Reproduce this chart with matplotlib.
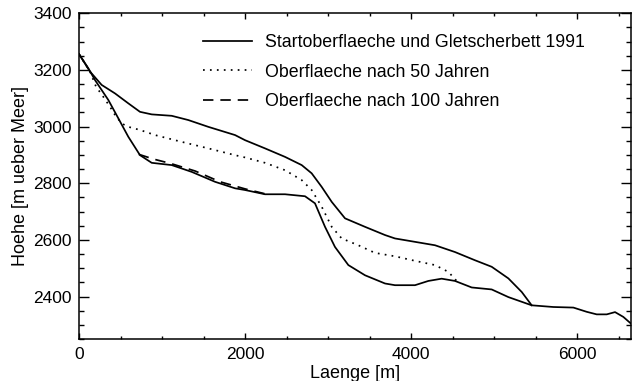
import matplotlib
matplotlib.use("Agg")
import matplotlib.pyplot as plt
from matplotlib.ticker import MultipleLocator

plt.rcParams['font.family'] = ['Liberation Sans', 'DejaVu Sans']

# Surface 1991 (upper solid)
surf_x = [0, 133, 273, 434, 594, 735, 876, 1117, 1317, 1558, 1880, 2000, 2241, 2482, 2683,
          2803, 2924, 3045, 3205, 3446, 3687, 3807, 4048, 4289, 4530, 4771, 4972, 5173, 5334, 5454]
surf_y = [3256, 3194, 3147, 3117, 3082, 3052, 3043, 3038, 3023, 2999, 2970, 2952, 2923, 2893, 2864,
          2835, 2787, 2734, 2676, 2646, 2617, 2605, 2593, 2581, 2557, 2528, 2505, 2464, 2416, 2369]

# Glacier bed 1991 (lower solid)
bed_x = [0, 112, 193, 353, 474, 594, 735, 876, 1117, 1358, 1639, 1880, 2000, 2241, 2482, 2723,
         2843, 2964, 3084, 3245, 3446, 3687, 3807, 4048, 4209, 4369, 4530, 4731, 4972, 5173,
         5454, 5715, 5956, 6117, 6237, 6358, 6458, 6558, 6675]
bed_y = [3256, 3206, 3164, 3094, 3029, 2964, 2899, 2872, 2864, 2840, 2805, 2782, 2776, 2761, 2761, 2754,
         2729, 2646, 2575, 2511, 2475, 2446, 2440, 2440, 2455, 2463, 2455, 2432, 2425, 2398,
         2369, 2363, 2361, 2346, 2337, 2337, 2345, 2328, 2298]

# Surface after 50 years (dotted)
s50_x = [0, 133, 205, 293, 373, 434, 514, 594, 735, 916, 1237, 1558, 1880, 2000, 2241, 2482,
         2683, 2803, 2924, 3045, 3165, 3365, 3566, 3807, 4048, 4289, 4450, 4550]
s50_y = [3256, 3194, 3141, 3105, 3070, 3041, 3011, 2999, 2988, 2970, 2946, 2923, 2899, 2891, 2872, 2846,
         2811, 2776, 2717, 2646, 2605, 2581, 2554, 2542, 2526, 2511, 2487, 2455]

# Surface after 100 years (dashed)
s100_x = [720, 900, 1100, 1400, 1700, 2000, 2250]
s100_y = [2902, 2885, 2870, 2843, 2805, 2780, 2762]

labels = ["Startoberflaeche und Gletscherbett 1991",
          "Oberflaeche nach 50 Jahren",
          "Oberflaeche nach 100 Jahren"]

fig = plt.figure(figsize=(6.33, 3.81), dpi=100)
ax = fig.add_axes([0.1248, 0.1102, 0.872, 0.855])

lw = 1.25
l1, = ax.plot(surf_x, surf_y, color='black', lw=lw)
ax.plot(bed_x, bed_y, color='black', lw=lw)
l2, = ax.plot(s50_x, s50_y, color='black', lw=lw, linestyle=(0, (1, 3)))
l3, = ax.plot(s100_x, s100_y, color='black', lw=lw, linestyle=(0, (6, 4)))

ax.set_xlim(0, 6650)
ax.set_ylim(2250, 3400)
ax.xaxis.set_major_locator(MultipleLocator(2000))
ax.xaxis.set_minor_locator(MultipleLocator(500))
ax.yaxis.set_major_locator(MultipleLocator(200))
ax.yaxis.set_minor_locator(MultipleLocator(50))

ax.tick_params(axis='both', which='both', direction='in', top=True, right=True,
               labelsize=12.5, color='black', width=1.0)
ax.tick_params(axis='x', which='major', length=4.5, pad=6)
ax.tick_params(axis='x', which='minor', length=2.5)
ax.tick_params(axis='y', which='major', length=7.5, pad=5)
ax.tick_params(axis='y', which='minor', length=3.5)
for s in ax.spines.values():
    s.set_linewidth(1.1)

ax.set_xlabel("Laenge [m]", fontsize=13, labelpad=2)
ax.set_ylabel("Hoehe [m ueber Meer]", fontsize=13, labelpad=3)

leg = ax.legend([l1, l2, l3], labels, loc='upper left', frameon=False, fontsize=12.8,
                handlelength=2.8, handletextpad=0.7, labelspacing=0.72,
                borderpad=0, borderaxespad=0,
                bbox_to_anchor=(0.224, 0.937))

fig.savefig("out.png", dpi=100)
